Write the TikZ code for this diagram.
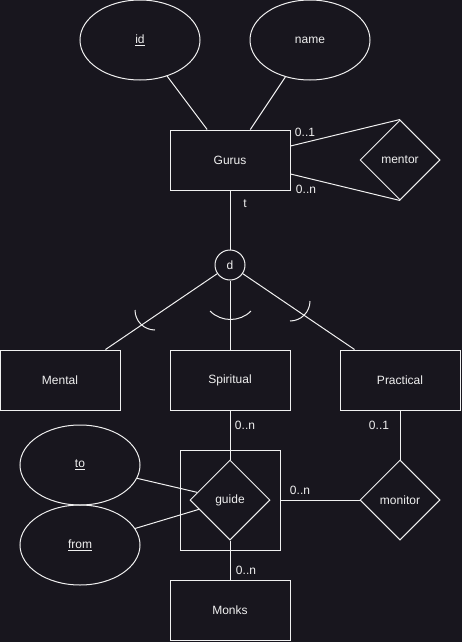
\documentclass[tikz,border=0pt]{standalone}
\usepackage{fontspec}
\setmainfont{Liberation Sans}
\usetikzlibrary{shapes.geometric}
\definecolor{bgdark}{RGB}{24,22,30}
\definecolor{ink}{RGB}{240,240,240}

\begin{document}
\begin{tikzpicture}[x=1pt, y=1pt, line width=1pt, font=\fontsize{12}{14}\selectfont]
	\tikzstyle {entity} = [shape=rectangle, draw=ink, text=ink, minimum height=60pt, minimum width=120pt, inner sep=0pt]
	\tikzstyle {attr}   = [shape=ellipse, draw=ink, text=ink, minimum height=80pt, minimum width=120pt, inner sep=0pt]
	\tikzstyle {rel}    = [shape=diamond, draw=ink, text=ink, minimum height=80pt, minimum width=80pt, inner sep=0pt]
	\tikzstyle {card}   = [text=ink, inner sep=0pt]

	\fill[bgdark] (0,0) rectangle (462,-642);
	\useasboundingbox (0,0) rectangle (462,-642);

	% Gurus and its attributes
	\node[attr] (id) at (140,-40) {\underline{id}};
	\node[attr] (name) at (310,-40) {name};
	\node[entity] (Gurus) at (230,-160) {Gurus};
	\node[rel] (mentor) at (400,-160) {mentor};

	% disjoint specialisation
	\node[shape=circle, draw=ink, text=ink, minimum size=30pt, inner sep=0pt] (d) at (230,-265) {d};
	\node[entity] (Mental) at (60,-380) {Mental};
	\node[entity] (Spiritual) at (230,-380) {Spiritual};
	\node[entity] (Practical) at (400,-380) {Practical};

	% guide aggregation, monitor, Monks
	\node[draw=ink, minimum size=100pt, inner sep=0pt] (guidebox) at (230,-500) {};
	\node[rel] (guide) at (230,-500) {guide};
	\node[rel] (monitor) at (400,-500) {monitor};
	\node[attr] (to) at (80,-465) {\underline{to}};
	\node[attr] (from) at (80,-545) {\underline{from}};
	\node[entity] (Monks) at (230,-610) {Monks};

	% cardinalities
	\node[card] (card-1) at (305,-132) {0..1};
	\node[card] (card-2) at (306,-189) {0..n};
	\node[card] (card-t) at (245,-204) {t};
	\node[card] (card-3) at (245,-425) {0..n};
	\node[card] (card-4) at (379,-425) {0..1};
	\node[card] (card-5) at (300,-490) {0..n};
	\node[card] (card-6) at (246,-570) {0..n};

	\draw[ink] (id) -- (Gurus);
	\draw[ink] (name) -- (Gurus);
	\draw[ink] ([yshift=14pt]Gurus.east) -- (mentor.north);
	\draw[ink] ([yshift=-14pt]Gurus.east) -- (mentor.south);

	\draw[ink] (Gurus) -- (d);
	\draw[ink] (d) -- ([xshift=-15pt]Mental.north east);
	\draw[ink] (d) -- (Spiritual);
	\draw[ink] (d) -- ([xshift=15pt]Practical.north west);

	% subset arcs
	\draw[ink] (135,-310) arc (180:270:20);
	\draw[ink] (210,-311) arc (225:315:29);
	\draw[ink] (310,-301) arc (0:-90:20);

	\draw[ink] (Spiritual) -- (guide);
	\draw[ink] (Practical) -- (monitor);
	\draw[ink] (to) -- (guide);
	\draw[ink] (from) -- (guide);
	\draw[ink] (guidebox) -- (monitor);
	\draw[ink] (guide) -- (Monks);
\end{tikzpicture}
\end{document}
